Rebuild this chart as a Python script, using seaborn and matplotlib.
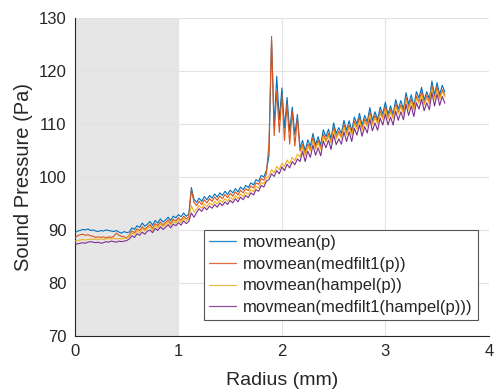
import numpy as np
import pandas as pd
import matplotlib
matplotlib.use("Agg")
import matplotlib.pyplot as plt
import seaborn as sns

# Sampled radius grid (mm)
radius_mm = np.linspace(0.0, 3.575, 144)

# Smoothed sound pressure (Pa) for each filtering pipeline
p_movmean = [
    89.5, 89.8, 89.9, 90.1, 90.0, 90.2, 89.9, 90.0, 89.8, 89.7, 89.9, 89.8, 90.0, 89.9, 89.8, 89.7, 89.9, 89.6, 89.4, 89.7, 89.5,
    89.6, 90.4, 90.1, 90.8, 90.5, 91.3, 90.7, 91.1, 91.6, 90.9, 91.8, 91.3, 92.1, 91.5, 91.9, 92.4, 91.8, 92.6, 92.3, 92.9, 92.5, 93.2, 92.6, 93.0,
    98.0, 95.8,
    95.2, 96.0, 95.4, 96.3, 95.7, 96.5, 96.0, 96.8, 96.2, 97.0, 96.5, 97.3, 96.7, 97.5, 97.0, 97.8, 97.2, 98.1, 97.6, 98.4, 98.0, 98.9, 98.5, 99.5, 99.2, 100.3, 100.0, 101.2,
    104.0, 125.8, 109.5, 119.0, 110.8, 116.8, 109.2, 115.0, 108.6, 113.2, 108.0, 111.8, 105.5,
    106.9, 104.9, 107.0, 105.8, 108.2, 106.1, 107.6, 106.0, 108.9, 107.6, 109.0, 107.2, 110.2, 108.2, 109.3, 108.2,
    110.7, 108.8, 110.6, 108.7, 111.3, 110.0, 112.0, 109.7, 111.6, 110.4, 113.1, 110.7, 112.3, 110.8, 113.2, 111.9,
    114.1, 111.8, 113.4, 111.8, 114.6, 112.8, 114.4, 112.8, 115.9, 113.7, 115.5, 113.4, 116.1, 114.9, 116.9, 114.5,
    116.1, 114.7, 118.1, 115.5, 117.8, 115.5, 117.3, 116.0,
]
p_medfilt = [
    88.6, 88.9, 89.1, 89.2, 89.0, 89.1, 88.9, 88.8, 88.6, 88.7, 88.6, 88.7, 88.5, 88.7, 88.6, 88.8, 89.4, 89.0, 88.8, 88.7, 88.5,
    89.0, 89.8, 89.5, 90.2, 89.9, 90.6, 90.1, 90.6, 91.0, 90.3, 91.2, 90.8, 91.5, 90.9, 91.4, 91.9, 91.2, 92.0, 91.7, 92.3, 91.8, 92.6, 92.1, 92.5,
    97.6, 95.2,
    94.6, 95.4, 94.8, 95.7, 95.1, 95.9, 95.4, 96.2, 95.6, 96.4, 95.9, 96.7, 96.1, 96.9, 96.4, 97.2, 96.6, 97.5, 97.0, 97.8, 97.4, 98.3, 97.9, 98.9, 98.6, 99.7, 99.4, 100.6,
    106.4, 126.5, 107.8, 116.2, 108.4, 115.5, 106.9, 113.8, 106.2, 112.4, 105.8, 111.2, 104.9,
    106.1, 104.3, 106.2, 105.2, 107.4, 105.5, 106.9, 105.5, 108.1, 106.9, 108.2, 106.6, 109.4, 107.6, 108.6, 107.6,
    109.9, 108.2, 109.8, 108.1, 110.5, 109.4, 111.2, 109.1, 110.9, 109.8, 112.2, 110.1, 111.6, 110.2, 112.4, 111.3,
    113.3, 111.2, 112.7, 111.3, 113.8, 112.2, 113.6, 112.2, 115.0, 113.1, 114.7, 112.8, 115.3, 114.2, 116.1, 113.9,
    115.4, 114.1, 117.2, 114.9, 117.0, 114.9, 116.5, 115.4,
]
p_hampel = [
    87.9, 88.0, 88.1, 88.2, 88.1, 88.2, 88.3, 88.2, 88.3, 88.2, 88.3, 88.2, 88.3, 88.4, 88.3, 88.4, 88.3, 88.4, 88.3, 88.5, 88.4,
    88.8, 89.4, 89.2, 89.8, 89.5, 90.2, 89.8, 90.3, 90.6, 90.0, 90.8, 90.4, 91.1, 90.6, 91.0, 91.5, 90.9, 91.6, 91.3, 91.9, 91.4, 92.2, 91.7, 92.1,
    94.6, 93.4,
    93.9, 94.6, 94.1, 94.9, 94.4, 95.1, 94.7, 95.4, 94.9, 95.7, 95.2, 95.9, 95.4, 96.2, 95.7, 96.5, 95.9, 96.8, 96.3, 97.1, 96.7, 97.6, 97.2, 98.2, 97.9, 99.0, 98.7, 99.8,
    100.2, 101.4, 100.8, 102.0, 101.4, 102.6, 102.0, 103.2, 102.5, 103.7, 103.1, 104.3, 103.8,
    105.6, 104.0, 105.8, 104.9, 106.8, 105.2, 106.4, 105.2, 107.6, 106.6, 107.7, 106.4, 108.8, 107.2, 108.2, 107.3,
    109.4, 107.9, 109.4, 107.9, 110.0, 109.0, 110.6, 108.8, 110.4, 109.5, 111.7, 109.8, 111.1, 110.0, 111.9, 110.9,
    112.7, 110.9, 112.2, 111.0, 113.3, 111.9, 113.2, 111.9, 114.5, 112.7, 114.2, 112.6, 114.8, 113.9, 115.5, 113.6,
    114.9, 113.8, 116.6, 114.6, 116.4, 114.6, 116.1, 115.1,
]
p_medfilt_hampel = [
    87.2, 87.4, 87.5, 87.6, 87.5, 87.7, 87.8, 87.7, 87.6, 87.7, 87.5, 87.6, 87.8, 87.7, 87.9, 87.8, 87.7, 87.9, 87.8, 87.9, 88.0,
    88.3, 88.9, 88.6, 89.3, 89.0, 89.6, 89.2, 89.8, 90.0, 89.5, 90.3, 89.9, 90.6, 90.1, 90.5, 91.0, 90.4, 91.1, 90.8, 91.4, 90.9, 91.7, 91.2, 91.6,
    93.2, 92.4,
    93.3, 94.0, 93.5, 94.3, 93.8, 94.5, 94.1, 94.8, 94.3, 95.1, 94.6, 95.3, 94.8, 95.6, 95.1, 95.9, 95.3, 96.2, 95.7, 96.5, 96.1, 97.0, 96.6, 97.6, 97.3, 98.4, 98.1, 99.2,
    99.5, 100.6, 100.1, 101.2, 100.6, 101.9, 101.2, 102.4, 101.7, 102.9, 102.3, 103.4, 102.9,
    104.8, 102.9, 104.9, 103.7, 106.0, 104.1, 105.5, 104.0, 106.8, 105.5, 106.9, 105.2, 108.0, 106.1, 107.2, 106.2,
    108.5, 106.7, 108.5, 106.7, 109.2, 107.9, 109.8, 107.7, 109.5, 108.3, 110.9, 108.7, 110.2, 108.8, 111.1, 109.8,
    111.9, 109.8, 111.3, 109.8, 112.4, 110.7, 112.3, 110.8, 113.7, 111.6, 113.4, 111.4, 114.0, 112.8, 114.7, 112.5,
    114.0, 112.7, 115.9, 113.4, 115.6, 113.5, 115.2, 113.9,
]

series_labels = [
    "movmean(p)",
    "movmean(medfilt1(p))",
    "movmean(hampel(p))",
    "movmean(medfilt1(hampel(p)))",
]
series_values = [p_movmean, p_medfilt, p_hampel, p_medfilt_hampel]
series_colors = ["#0072BD", "#D95319", "#EDB120", "#7E2F8E"]

y_ticks = [70, 80, 90, 100, 110, 120, 130]
x_ticks = [0, 1, 2, 3, 4]

df = pd.concat(
    [pd.DataFrame({"Radius": radius_mm, "Pressure": vals, "Filter": lab})
     for lab, vals in zip(series_labels, series_values)],
    ignore_index=True,
)

sns.set_style("white")
plt.rcParams["font.family"] = ["Liberation Sans", "DejaVu Sans"]

fig = plt.figure(figsize=(4.95, 3.90), dpi=100)
ax = fig.add_axes([0.1515, 0.1385, 0.836, 0.8155])

# Excluded near-centre zone
ax.axvspan(0, 1, color="#E6E6E6", zorder=0, lw=0)

palette = dict(zip(series_labels, series_colors))
sns.lineplot(
    data=df, x="Radius", y="Pressure", hue="Filter",
    hue_order=series_labels, palette=palette,
    estimator=None, sort=False, linewidth=0.8, ax=ax, zorder=3, legend=False,
)

ax.set_xlim(0, 4)
ax.set_ylim(70, 130)
ax.set_xticks(x_ticks)
ax.set_yticks(y_ticks)
ax.grid(True, color="#E3E3E3", linewidth=0.8, zorder=1)
ax.set_axisbelow(True)

for side in ("top", "right"):
    ax.spines[side].set_visible(False)
for side in ("left", "bottom"):
    ax.spines[side].set_color("#262626")
    ax.spines[side].set_linewidth(0.8)

ax.tick_params(axis="both", direction="in", length=4, width=0.8,
               colors="#262626", labelsize=12, pad=6)
ax.set_xlabel("Radius (mm)", fontsize=14, color="#262626", labelpad=9)
ax.set_ylabel("Sound Pressure (Pa)", fontsize=14.5, color="#262626", labelpad=4)

handles = [plt.Line2D([], [], color=palette[lab], linewidth=0.9, alpha=0.85)
           for lab in series_labels]
leg = ax.legend(
    handles, series_labels,
    loc="lower right", bbox_to_anchor=(0.973, 0.05), fontsize=12,
    frameon=True, fancybox=False, framealpha=1, edgecolor="#555555",
    handlelength=1.6, handletextpad=0.45, borderpad=0.3, borderaxespad=0,
    labelspacing=0.4,
)
leg.get_frame().set_linewidth(0.8)

fig.savefig("out.png", dpi=100)
